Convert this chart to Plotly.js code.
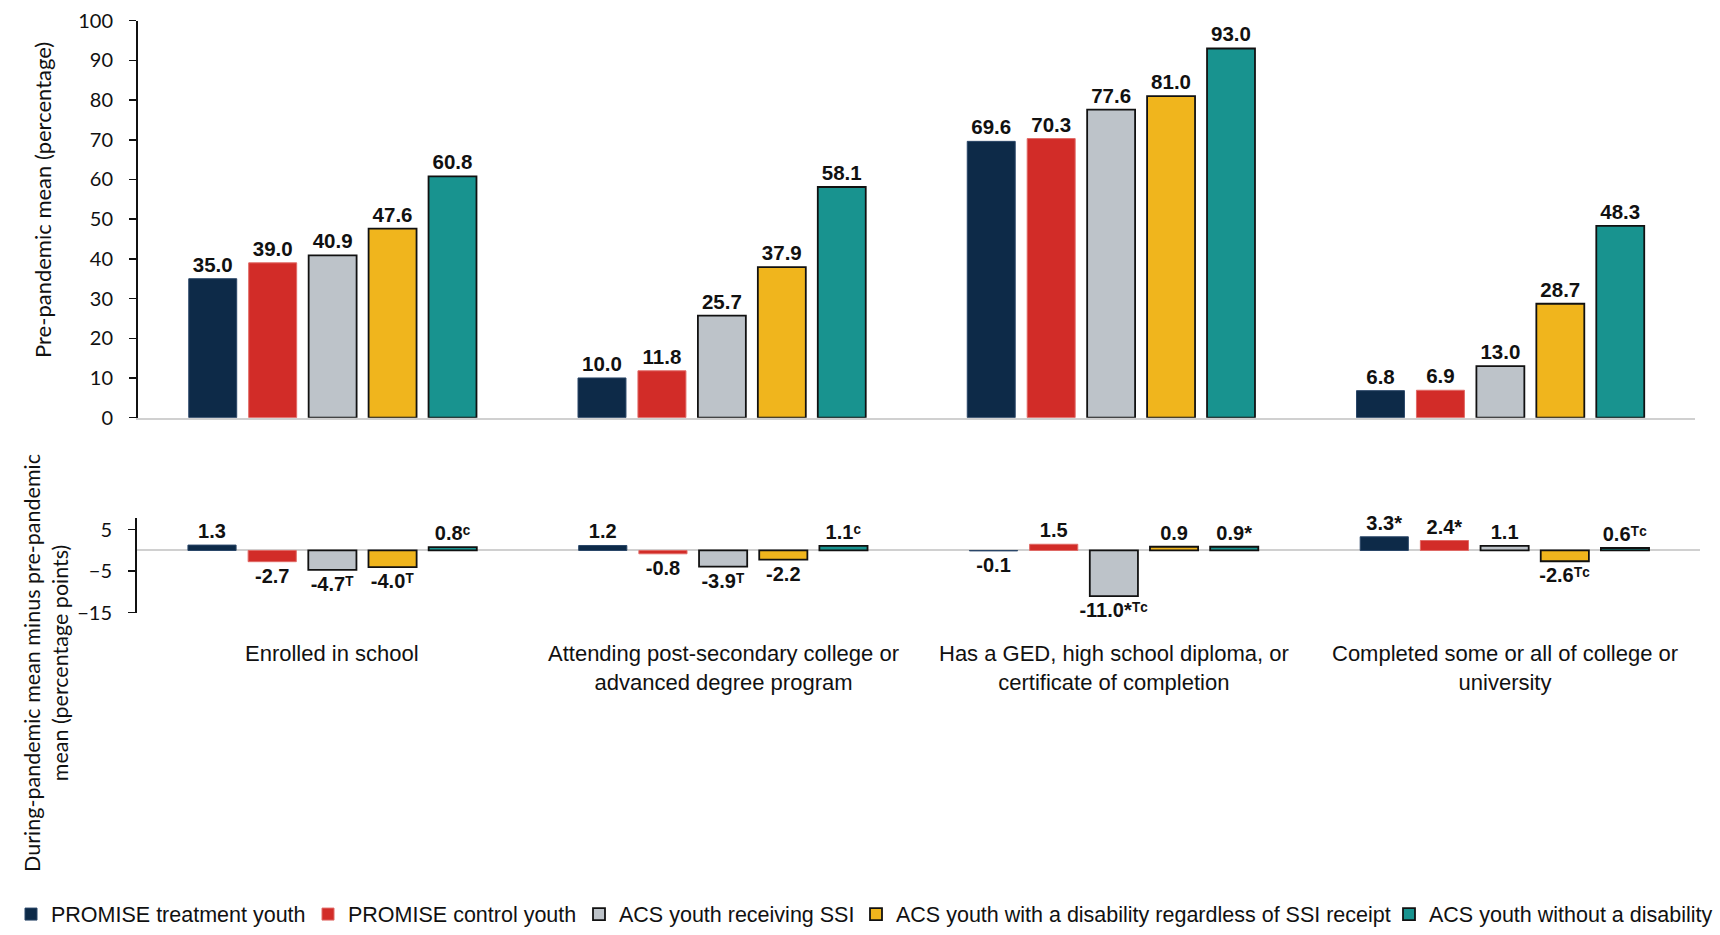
<!DOCTYPE html>
<html>
<head>
<meta charset="utf-8">
<script src="https://cdn.plot.ly/plotly-3.0.1.min.js"></script>
<style>
html,body{margin:0;padding:0;background:#fff;}
#chart{width:1720px;height:935px;}
</style>
</head>
<body>
<div id="chart"></div>
<script>
// ---------- DATA ----------
const categories = [
  "Enrolled in school",
  "Attending post-secondary college or advanced degree program",
  "Has a GED, high school diploma, or certificate of completion",
  "Completed some or all of college or university"
];
const categoryLabels = [
  "Enrolled in school",
  "Attending post-secondary college or<br>advanced degree program",
  "Has a GED, high school diploma, or<br>certificate of completion",
  "Completed some or all of college or<br>university"
];
const seriesNames = [
  "PROMISE treatment youth",
  "PROMISE control youth",
  "ACS youth receiving SSI",
  "ACS youth with a disability regardless of SSI receipt",
  "ACS youth without a disability"
];
// Pre-pandemic mean (percentage)
const preTreatment = [35.0, 10.0, 69.6, 6.8];
const preControl   = [39.0, 11.8, 70.3, 6.9];
const preAcsSsi    = [40.9, 25.7, 77.6, 13.0];
const preAcsDis    = [47.6, 37.9, 81.0, 28.7];
const preAcsNoDis  = [60.8, 58.1, 93.0, 48.3];
// During-pandemic minus pre-pandemic (percentage points)
const diffTreatment = [1.3, 1.2, -0.1, 3.3];
const diffControl   = [-2.7, -0.8, 1.5, 2.4];
const diffAcsSsi    = [-4.7, -3.9, -11.0, 1.1];
const diffAcsDis    = [-4.0, -2.2, 0.9, -2.6];
const diffAcsNoDis  = [0.8, 1.1, 0.9, 0.6];
// significance markers (* = significant; superscript T / C = differs from treatment / control)
const starTreatment = ["", "", "", "*"];
const starControl   = ["", "", "", "*"];
const starAcsSsi    = ["", "", "*", ""];
const starAcsDis    = ["", "", "", ""];
const starAcsNoDis  = ["", "", "*", ""];
const supTreatment = ["", "", "", ""];
const supControl   = ["", "", "", ""];
const supAcsSsi    = ["T", "T", "TC", ""];
const supAcsDis    = ["T", "", "", "TC"];
const supAcsNoDis  = ["C", "C", "", "TC"];

// ---------- STYLE ----------
const colors = ["#0d2a48", "#d22c28", "#bdc3c9", "#f0b51d", "#18938f"];
const lineColors = ["#2a4668", "#e06a66", "#111111", "#111111", "#111111"];
const lineWidths = [1, 1, 1.8, 1.8, 1.8];
const legendWidths = [252, 226, 232, 488, 286];
const narrow = "'Liberation Sans', Arial, sans-serif";
const sansCal = "Lato, Carlito, Calibri, 'Open Sans', sans-serif";
const supChars = {T: "\u1D40", C: "\u1D9C"};
const toSup = s => s.split("").map(ch => supChars[ch] || ch).join("");

const preData = [preTreatment, preControl, preAcsSsi, preAcsDis, preAcsNoDis];
const diffData = [diffTreatment, diffControl, diffAcsSsi, diffAcsDis, diffAcsNoDis];
const stars = [starTreatment, starControl, starAcsSsi, starAcsDis, starAcsNoDis];
const sups = [supTreatment, supControl, supAcsSsi, supAcsDis, supAcsNoDis];

const traces = [];
for (let i = 0; i < 5; i++) {
  traces.push({
    type: "bar",
    name: seriesNames[i],
    x: categories,
    y: preData[i],
    xaxis: "x", yaxis: "y",
    text: preData[i].map(v => v.toFixed(1)),
    textposition: "outside",
    constraintext: "none",
    cliponaxis: false,
    textfont: {family: narrow, size: 20.5, color: "#111", weight: "bold"},
    marker: {color: colors[i], line: {color: lineColors[i], width: lineWidths[i]}},
    hoverinfo: "skip",
    legendgroup: "g" + i,
    legendwidth: legendWidths[i],
    showlegend: true
  });
}
for (let i = 0; i < 5; i++) {
  traces.push({
    type: "bar",
    name: seriesNames[i],
    x: categories,
    y: diffData[i],
    xaxis: "x2", yaxis: "y2",
    text: diffData[i].map((v, j) => v.toFixed(1) + stars[i][j] + toSup(sups[i][j])),
    textposition: "outside",
    constraintext: "none",
    cliponaxis: false,
    textfont: {family: narrow, size: 20, color: "#111", weight: "bold"},
    marker: {color: colors[i], line: {color: lineColors[i], width: lineWidths[i]}},
    hoverinfo: "skip",
    legendgroup: "g" + i,
    showlegend: false
  });
}

const W = 1720, H = 935;
const annotations = categories.map((c, k) => ({
  xref: "x2", yref: "paper", x: c, y: 1 - 649 / H,
  xanchor: "center", yanchor: "top",
  text: categoryLabels[k], showarrow: false,
  font: {family: narrow, size: 22, color: "#111"}
}));
annotations.push({
  xref: "paper", yref: "paper", x: 43 / W, y: 1 - 203 / H,
  xanchor: "center", yanchor: "middle", textangle: -90,
  text: "Pre-pandemic mean (percentage)", showarrow: false,
  font: {family: sansCal, size: 22, color: "#111"}
});
annotations.push({
  xref: "paper", yref: "paper", x: 46 / W, y: 1 - 673 / H,
  xanchor: "center", yanchor: "middle", textangle: -90,
  text: "During-pandemic mean minus pre-pandemic<br>mean (percentage points)", showarrow: false,
  font: {family: sansCal, size: 21.5, color: "#111"}
});

const layout = {
  width: W, height: H,
  margin: {l: 0, r: 0, t: 0, b: 0},
  paper_bgcolor: "#fff", plot_bgcolor: "rgba(0,0,0,0)",
  barmode: "group", bargap: 0.23, bargroupgap: 0.2,
  showlegend: true,
  legend: {
    orientation: "h", x: 20 / W, xanchor: "left", y: 1 - 928 / H, yanchor: "middle",
    font: {family: narrow, size: 21.5, color: "#111"},
    itemclick: false, itemdoubleclick: false, tracegroupgap: 0
  },
  xaxis: {
    domain: [138 / W, 1695 / W], anchor: "y",
    type: "category", showticklabels: false, ticks: "",
    showline: true, linecolor: "#d0d0d0", linewidth: 2,
    showgrid: false, zeroline: false, fixedrange: true
  },
  yaxis: {
    domain: [1 - 424 / H, 1 - 21 / H], anchor: "x",
    range: [0, 100], tickvals: [0,10,20,30,40,50,60,70,80,90,100],
    ticks: "outside", ticklen: 7, tickwidth: 1.5, tickcolor: "#111",
    ticklabelstandoff: 12,
    showline: true, linecolor: "#111", linewidth: 2,
    showgrid: false, zeroline: false,
    tickfont: {family: sansCal, size: 20, color: "#111"}, fixedrange: true
  },
  xaxis2: {
    domain: [137 / W, 1700 / W], anchor: "y2",
    type: "category", showticklabels: false, ticks: "",
    showline: false, showgrid: false, zeroline: false, fixedrange: true
  },
  yaxis2: {
    domain: [1 - 622 / H, 1 - 526 / H], anchor: "x2",
    range: [-15, 7.8], tickvals: [-15, -5, 5],
    ticks: "outside", ticklen: 7, tickwidth: 1.5, tickcolor: "#111",
    ticklabelstandoff: 12,
    showline: true, linecolor: "#111", linewidth: 2,
    showgrid: false, zeroline: true, zerolinecolor: "#d0d0d0", zerolinewidth: 2,
    tickfont: {family: sansCal, size: 20, color: "#111"}, fixedrange: true
  },
  annotations: annotations
};

Plotly.newPlot("chart", traces, layout, {displayModeBar: false, staticPlot: true});
</script>
</body>
</html>
